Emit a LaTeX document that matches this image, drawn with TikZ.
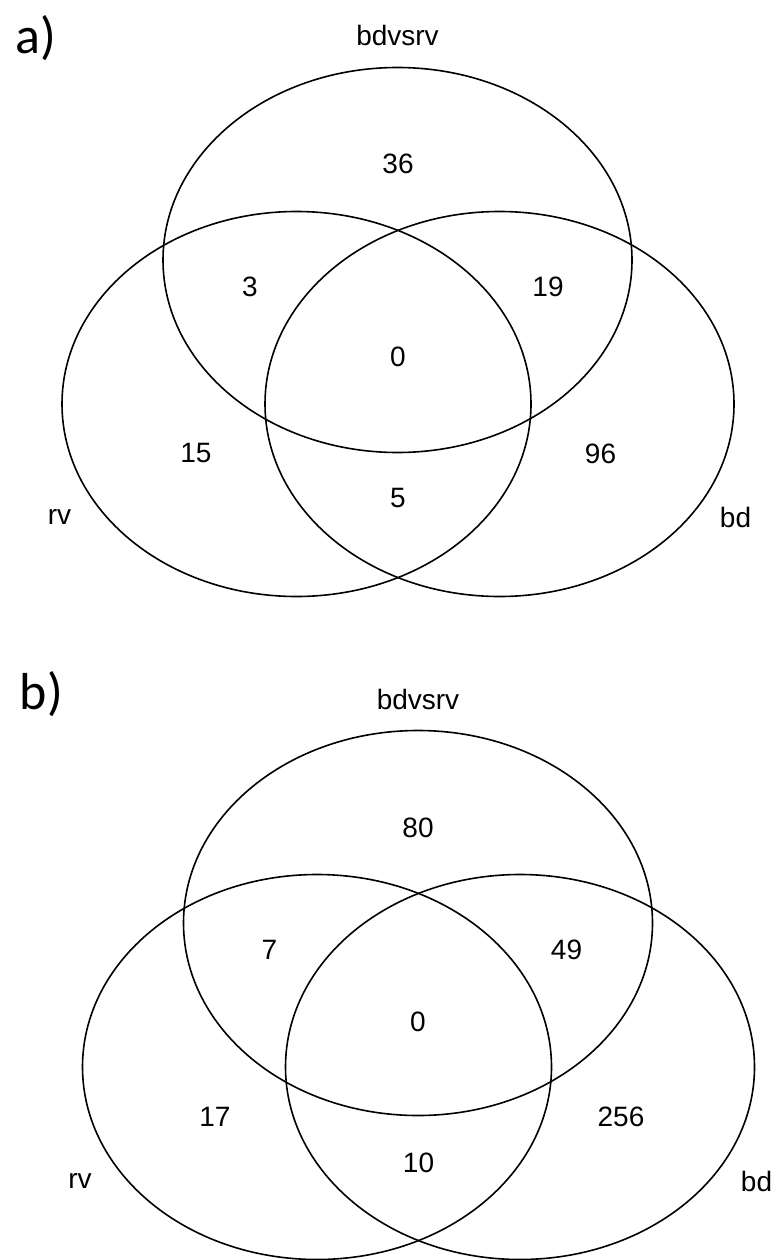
\documentclass[tikz,border=0pt]{standalone}
\usepackage{fontspec}
\setmainfont{Liberation Sans}
\newfontfamily\panelfont{Carlito}
\usepackage{tikz}

\begin{document}
\begin{tikzpicture}[x=1pt,y=-1pt,
    setline/.style={black,line width=1.6pt},
    count/.style={inner sep=0pt,font=\fontsize{28}{28}\selectfont},
    panel/.style={inner sep=0pt,font=\panelfont\fontsize{52}{52}\selectfont}]
\useasboundingbox (0,0) rectangle (773,1260);

% a)
\node[panel] (tagA) at (36,38) {a)};
\begin{scope}
\draw[setline] (397.5,260) ellipse (234.5 and 192.5);
\draw[setline] (296.5,404) ellipse (234.5 and 192.5);
\draw[setline] (499.5,404) ellipse (234.5 and 192.5);
\node[count] (setA) at (397.5,35) {bdvsrv};
\node[count] (rvA) at (59.5,516.5) {rv};
\node[count] (bdA) at (735.5,517.5) {bd};
\node[count] (onlyA) at (398,164) {36};
\node[count] (leftA) at (250,287) {3};
\node[count] (rightA) at (548,286.5) {19};
\node[count] (midA) at (398,357) {0};
\node[count] (rvonlyA) at (196,453.5) {15};
\node[count] (bdonlyA) at (600.5,453.5) {96};
\node[count] (lowA) at (398,498) {5};
\end{scope}

% b)
\node[panel] (tagB) at (41.5,694.5) {b)};
\begin{scope}[shift={(20.5,663)}]
\draw[setline] (397.5,260) ellipse (234.5 and 192.5);
\draw[setline] (296.5,404) ellipse (234.5 and 192.5);
\draw[setline] (499.5,404) ellipse (234.5 and 192.5);
\node[count] (setB) at (397.5,36) {bdvsrv};
\node[count] (rvB) at (59.5,517.5) {rv};
\node[count] (bdB) at (736,518) {bd};
\node[count] (onlyB) at (397.5,164.5) {80};
\node[count] (leftB) at (249,287) {7};
\node[count] (rightB) at (546,287) {49};
\node[count] (midB) at (397.5,358.5) {0};
\node[count] (rvonlyB) at (194.5,454) {17};
\node[count] (bdonlyB) at (600.5,454) {256};
\node[count] (lowB) at (398,500) {10};
\end{scope}
\end{tikzpicture}
\end{document}
